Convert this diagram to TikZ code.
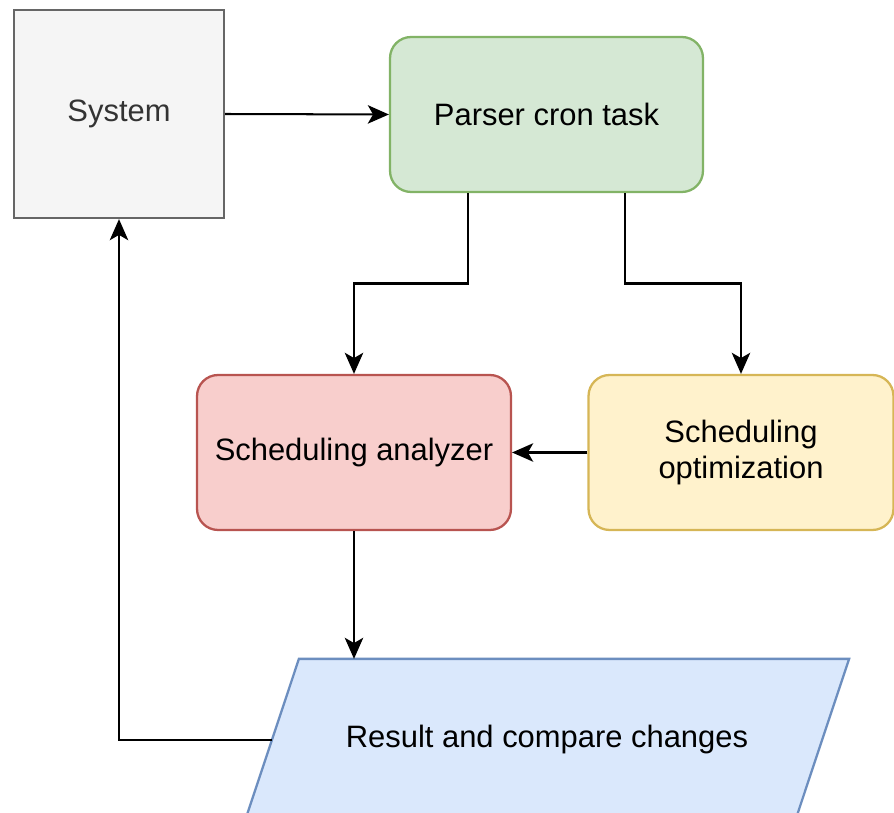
\documentclass[tikz,border=0pt]{standalone}
\usepackage{fontspec}
\setmainfont{Liberation Sans}
\usetikzlibrary{arrows.meta,calc,backgrounds}

\definecolor{sysfill}{HTML}{F5F5F5}
\definecolor{sysline}{HTML}{666666}
\definecolor{systext}{HTML}{333333}
\definecolor{parsefill}{HTML}{D5E8D4}
\definecolor{parseline}{HTML}{82B366}
\definecolor{anafill}{HTML}{F8CECC}
\definecolor{analine}{HTML}{B85450}
\definecolor{optfill}{HTML}{FFF2CC}
\definecolor{optline}{HTML}{D6B656}
\definecolor{resfill}{HTML}{DAE8FC}
\definecolor{resline}{HTML}{6C8EBF}

\tikzset{
    box/.style={draw, line width=1.3pt, align=center, inner sep=0pt,
        font=\fontsize{17.6}{20.5}\selectfont},
    roundbox/.style={box, rounded corners=0.42cm,
        minimum height=3.1cm},
    arr/.style={-{Stealth[length=12pt, width=10.5pt, inset=3pt]},
        line width=1.15pt},
}

\begin{document}
\begin{tikzpicture}[x=0.02cm, y=-0.02cm]
    \useasboundingbox (0, 0) rectangle (894, 813);

    % blocks
    \node [box, fill=sysfill, draw=sysline, text=systext,
        minimum width=4.2cm, minimum height=4.16cm]
        (sys) at (119, 114) {System};
    \node [roundbox, fill=parsefill, draw=parseline, minimum width=6.26cm]
        (parser) at (546.5, 114.5) {Parser cron task};
    \node [roundbox, fill=anafill, draw=analine, minimum width=6.28cm]
        (ana) at (354, 452.5) {Scheduling analyzer};
    \node [roundbox, fill=optfill, draw=optline, minimum width=6.1cm]
        (opt) at (741, 452.5) {Scheduling\\optimization};
    \node [box, draw=none, minimum width=9.88cm, minimum height=3.2cm]
        (res) at (547, 740) {Result and compare changes};

    % slanted sides of the result block
    \begin{scope}[on background layer]
        \draw [line width=1.3pt, fill=resfill, draw=resline]
            (res.north west) -- ($(res.north east)+(54,0)$)
            -- (res.south east) -- ($(res.south west)+(-54,0)$) -- cycle;
    \end{scope}
    \coordinate (resl) at ($(res.west)+(-27,0)$);

    % connectors
    \coordinate (fork) at (0, 283.5);
    \coordinate (p1) at ($(parser.south west)!0.25!(parser.south east)$);
    \coordinate (p2) at ($(parser.south west)!0.75!(parser.south east)$);

    \draw [arr] (sys.east) -- (parser.west);
    \draw [arr] (p1) -- (p1 |- fork) -| (ana.north);
    \draw [arr] (p2) -- (p2 |- fork) -| (opt.north);
    \draw [arr] (opt.west) -- (ana.east);
    \draw [arr] (ana.south) -- (ana.south |- res.north);
    \draw [arr] (resl) -| (sys.south);
\end{tikzpicture}
\end{document}
